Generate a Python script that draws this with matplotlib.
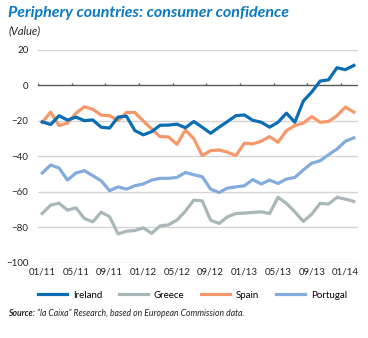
import matplotlib
matplotlib.use("Agg")
import matplotlib.pyplot as plt
import numpy as np

plt.rcParams['font.family'] = ['Lato', 'DejaVu Sans']

# monthly data, Jan 2011 - Feb 2014
tick_labels = ["01/11", "05/11", "09/11", "01/12", "05/12",
               "09/12", "01/13", "05/13", "09/13", "01/14"]
series_names = ["Ireland", "Greece", "Spain", "Portugal"]

ireland = [-20.5, -22, -17, -19.5, -17.8, -19.8, -19.4, -23.5, -24, -17.8,
           -17.3, -25.4, -27.8, -26, -22.4, -22.3, -21.8, -23.8, -20.3, -23.5,
           -26.9, -23.5, -20.3, -17, -16.6, -19.6, -20.7, -23.5, -20.7, -15.6,
           -20.7, -8.8, -3.7, 2.5, 3.2, 10, 8.9, 11.3]
greece = [-72.1, -67.4, -66.3, -70.2, -68.9, -74.9, -76.8, -71.4, -73.9, -83.6,
          -82.1, -81.7, -80.2, -83.3, -79.1, -78.5, -75.8, -70.8, -64.6, -65,
          -75.9, -77.7, -74, -72.1, -71.9, -71.5, -71.2, -72.1, -63, -66.4,
          -71.2, -76.6, -72.5, -66.4, -66.8, -63, -64, -65.3]
spain = [-20.8, -15, -22.6, -21.2, -15.6, -12, -13.4, -16.7, -17, -19.8,
         -15.2, -15.2, -20, -24.5, -28.8, -29, -33.2, -25, -30, -39.5,
         -36.7, -36.3, -37.6, -39.5, -32.5, -32.9, -31.4, -28.8, -32, -25.4,
         -22.6, -21.2, -17.5, -20.7, -20.3, -17, -12.2, -15]
portugal = [-49.3, -44.8, -46.5, -53.3, -49.3, -48, -50.8, -53.7, -59.3, -57.1,
            -58.4, -56.5, -55.5, -53.3, -52.3, -52.3, -51.8, -49, -50.3, -51.4,
            -58.4, -60.3, -57.8, -57.1, -56.5, -53, -55.5, -53.3, -55.2, -52.7,
            -51.8, -47.6, -43.8, -42.4, -39, -35.8, -31.4, -29.5]

colors = ["#0b6db4", "#a9b7b8", "#f6986a", "#84abde"]
zorders = [5, 3, 4, 3]

fig = plt.figure(figsize=(3.68, 3.38), dpi=100)
ax = fig.add_axes([0.1033, 0.2219, 0.8696, 0.6302])

x = np.arange(len(ireland))
lines = []
for vals, name, c, z in zip([ireland, greece, spain, portugal], series_names, colors, zorders):
    ln, = ax.plot(x, vals, color=c, lw=2.3, label=name, zorder=z)
    lines.append(ln)

ax.set_xlim(-0.5, len(x) - 0.5)
ax.set_ylim(-100, 20)
ax.set_yticks(np.arange(-100, 21, 20))
for v in np.arange(-100, 21, 20):
    if v != 0:
        ax.axhline(v, color="#d4d4d4", lw=1.0, zorder=1)
ax.axhline(0, color="#5a5a5a", lw=1.0, zorder=2)
# small tick marks on the zero line at 4-month boundaries
bounds = np.arange(-0.5, len(x) - 1, 4)
ax.vlines(bounds, 0, 1.6, color="#5a5a5a", lw=1.0, zorder=2)

ax.set_xticks(np.arange(0, len(x), 4))
ax.set_xticklabels(tick_labels)
for s in ax.spines.values():
    s.set_visible(False)
ax.tick_params(axis="both", length=0, labelsize=7, colors="#222222")
ax.tick_params(axis="y", pad=7)
ax.tick_params(axis="x", pad=3)

fig.text(0.022, 0.962, "Periphery countries: consumer confidence", fontsize=11.5,
         fontweight="bold", style="italic", color="#0a78c2", va="center")
fig.text(0.022, 0.91, "(Value)", fontsize=8, style="italic", color="#222222",
         va="center")

fig.legend(handles=lines, loc="center", bbox_to_anchor=(0.523, 0.127), ncol=4,
           frameon=False, fontsize=7, handlelength=3.0, columnspacing=1.7,
           handletextpad=0.6)

src = fig.text(0.022, 0.073, "Source:", fontsize=6.2, fontweight="bold",
               style="italic", color="#222222", va="center")
rest = fig.text(0.1, 0.073, " \u201cla Caixa\u201d Research, based on European Commission data.",
                fontsize=6.2, style="italic", color="#222222", va="center")
fig.canvas.draw()
bb = src.get_window_extent()
rest.set_position((bb.x1 / fig.bbox.width, 0.073))

fig.savefig("out.png", dpi=100)
